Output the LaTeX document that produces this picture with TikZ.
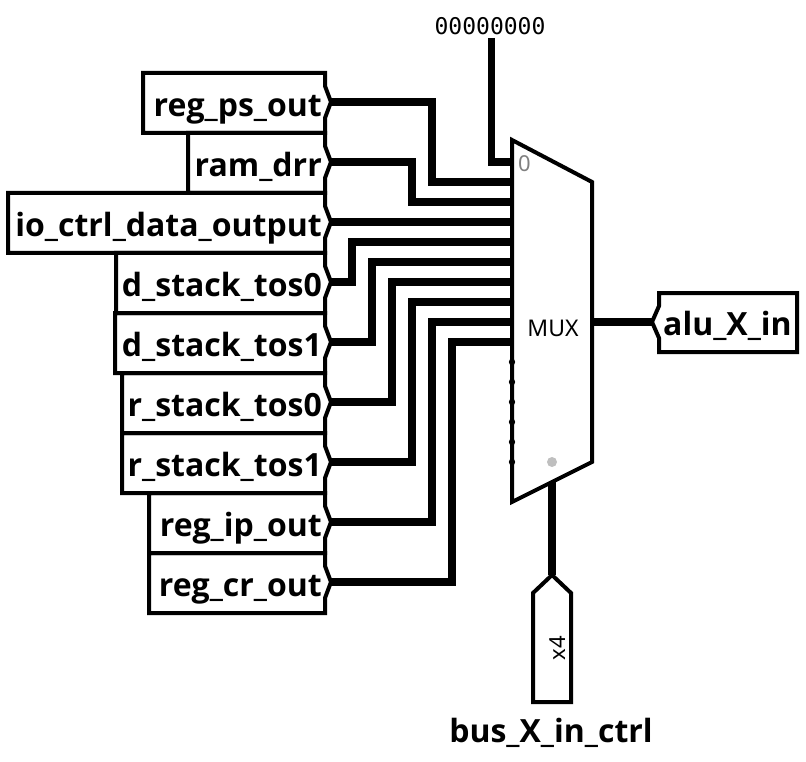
\documentclass[tikz,border=0pt]{standalone}
\usepackage{fontspec}
\setmainfont{Noto Sans}
\newfontfamily\lblfont{Open Sans}
\newfontfamily\cmono{DejaVu Sans Mono}
\begin{document}
\tikzset{
  wire/.style={line width=7.5pt, line cap=butt, line join=miter},
  outline/.style={line width=4pt, line join=miter},
  lbl/.style={font=\lblfont\bfseries\fontsize{32}{36}\selectfont, inner sep=0pt, anchor=base east},
  small/.style={font=\fontsize{22}{24}\selectfont, inner sep=0pt},
}
\begin{tikzpicture}[x=1pt,y=-1pt]
\useasboundingbox (0,0) rectangle (806,762);
% label boxes
\foreach \n/\t/\lx/\k in {ps/{reg\_ps\_out}/143/0, drr/{ram\_drr}/188/1, io/{io\_ctrl\_data\_output}/8/2, dsa/{d\_stack\_tos0}/116/3, dsb/{d\_stack\_tos1}/115/4, rsa/{r\_stack\_tos0}/122/5, rsb/{r\_stack\_tos1}/122/6, ip/{reg\_ip\_out}/149/7, cr/{reg\_cr\_out}/149/8}{
  \pgfmathsetmacro\yc{102+60*\k}
  \draw[outline] (\lx,\yc-29) -- (325,\yc-29) -- (325,\yc-16) -- (331,\yc) -- (325,\yc+16) -- (325,\yc+31) -- (\lx,\yc+31) -- cycle;
  \node[lbl] (\n) at (322,\yc+14.5) {\t};
  \coordinate (\n T) at (331,\yc);
}
% mux
\draw[outline] (512,140) -- (592,182) -- (592,462) -- (512,502) -- cycle;
\foreach \i in {0,...,15} { \coordinate (in\i) at (512,162+20*\i); }
\foreach \i in {10,...,15} { \fill (in\i) circle (3.2pt); }
\node[font=\fontsize{23}{26}\selectfont, anchor=base, inner sep=0pt] (muxlbl) at (553,336) {MUX};
\node[font=\fontsize{22}{24}\selectfont, text=gray, anchor=base west, inner sep=0pt] (zero) at (518,172) {0};
\fill[lightgray] (552,462) circle (5pt);
\coordinate (mout) at (592,322);
\coordinate (msel) at (552,482);
% constant
\node[font=\cmono\fontsize{23}{25}\selectfont, anchor=base, inner sep=0pt] (const) at (490,35) {00000000};
\coordinate (constW) at (491.5,38);
\draw[wire] (constW) |- (in0);
% input wires
\draw[wire] (psT) -| ([xshift=-80pt]in1) -- (in1);
\draw[wire] (drrT) -| ([xshift=-100pt]in2) -- (in2);
\draw[wire] (ioT) -- (in3);
\draw[wire] (dsaT) -| ([xshift=-160pt]in4) -- (in4);
\draw[wire] (dsbT) -| ([xshift=-140pt]in5) -- (in5);
\draw[wire] (rsaT) -| ([xshift=-120pt]in6) -- (in6);
\draw[wire] (rsbT) -| ([xshift=-100pt]in7) -- (in7);
\draw[wire] (ipT) -| ([xshift=-80pt]in8) -- (in8);
\draw[wire] (crT) -| ([xshift=-60pt]in9) -- (in9);
% output
\coordinate (aluT) at (652,322);
\draw[wire] (mout) -- (aluT);
\draw[outline] (659,293) -- (797,293) -- (797,352) -- (659,352) -- (659,338) -- (652,322) -- (659,306) -- cycle;
\node[lbl, anchor=base west] (alu) at (663,335) {alu\_X\_in};
% select
\coordinate (pinT) at (552,575);
\draw[wire] (msel) -- (pinT);
\draw[outline] (552,575) -- (571,593) -- (571,702) -- (533,702) -- (533,593) -- cycle;
\node[small, rotate=90] (xfour) at (558,648) {x4};
\node[lbl, anchor=base] (bus) at (551,742) {bus\_X\_in\_ctrl};
\end{tikzpicture}
\end{document}
